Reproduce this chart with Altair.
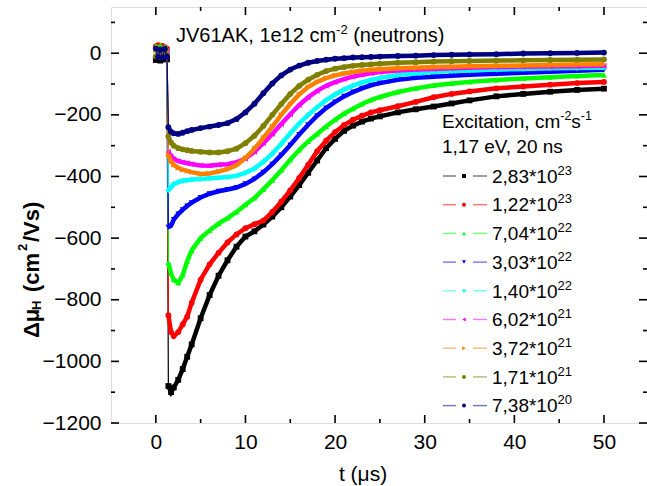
import altair as alt
import pandas as pd

# ---------------- data ----------------
mant = ["2,83", "1,22", "7,04", "3,03", "1,40", "6,02", "3,72", "1,71", "7,38"]
expo = ["23", "23", "22", "22", "22", "21", "21", "21", "20"]
colors = ["#000000", "#ff0000", "#00ff00", "#0000ff", "#00ffff",
          "#ff00ff", "#ff8000", "#808000", "#000080"]
shapes = ["square", "circle", "triangle-up", "triangle-down", "diamond",
          "triangle-left", "triangle-right", "circle", "circle"]

t_pre = [0.0, 0.25, 0.5, 0.75, 1.0, 1.25]
t_post = [1.4, 1.7, 2, 2.5, 3, 3.5, 4, 5, 6, 7, 8, 9, 10, 11, 12, 13, 14, 15, 16,
          17, 18, 19, 20, 21, 22, 23, 24, 25, 27, 29, 31, 33, 35, 38, 41, 44, 47, 50]

pre_black = [-22, -18, -24, -20, -16, -20]
pre_red = [22, 26, 18, 24, 20, 15]
pre_green = [24, 20, 26, 18, 22, 16]
pre_blue = [5, -8, 10, -5, 8, 0]
pre_cyan = [8, -4, 6, -10, 4, 2]
pre_magenta = [-6, 10, -2, 6, -8, 4]
pre_orange = [10, -6, 4, 12, -4, 6]
pre_olive = [-10, 6, -12, 4, 10, -6]
pre_navy = [15, -12, 12, -15, 14, -10]

post_black = [-1080, -1100, -1085, -1060, -1025, -985, -945, -860, -785, -722, -672, -628,
              -595, -578, -556, -530, -500, -465, -428, -388, -348, -308, -278, -252, -235,
              -222, -212, -205, -192, -182, -173, -163, -153, -140, -132, -125, -119, -115]
post_red = [-850, -905, -918, -905, -880, -855, -810, -735, -685, -648, -614, -588, -568,
            -555, -543, -515, -482, -445, -405, -362, -318, -284, -256, -233, -216, -203,
            -192, -185, -172, -158, -143, -132, -124, -114, -108, -102, -97, -93]
post_green = [-680, -715, -735, -745, -720, -675, -640, -600, -575, -553, -535, -515, -492,
              -470, -442, -412, -380, -346, -314, -286, -262, -238, -216, -196, -180, -165,
              -152, -142, -126, -114, -105, -98, -93, -87, -82, -78, -74, -71]
post_blue = [-565, -560, -540, -522, -508, -496, -485, -468, -456, -448, -442, -436, -424,
             -408, -386, -360, -330, -298, -264, -232, -203, -178, -158, -140, -126, -114,
             -104, -97, -86, -80, -76, -73, -70, -67, -63, -60, -57, -54]
post_cyan = [-445, -435, -425, -418, -414, -412, -410, -408, -406, -404, -402, -398, -388,
             -374, -352, -326, -294, -260, -228, -200, -175, -152, -134, -118, -105, -95,
             -87, -80, -71, -65, -61, -58, -56, -53, -51, -49, -48, -47]
post_magenta = [-320, -335, -343, -350, -354, -357, -360, -364, -365, -362, -360, -354, -342,
                -320, -292, -262, -230, -198, -168, -143, -122, -106, -94, -84, -76, -70,
                -65, -61, -56, -53, -51, -49, -47, -45, -44, -43, -42, -41]
post_orange = [-330, -350, -362, -372, -378, -382, -386, -392, -390, -384, -376, -364, -340,
               -310, -275, -238, -200, -165, -134, -110, -93, -81, -72, -66, -61, -57,
               -54, -52, -49, -47, -45, -44, -42, -41, -40, -38, -37, -36]
post_olive = [-270, -290, -300, -308, -312, -315, -317, -320, -322, -322, -318, -310, -292,
              -268, -236, -200, -165, -132, -106, -86, -70, -58, -50, -45, -41, -38,
              -36, -34, -31, -29, -27, -26, -25, -24, -23, -22, -21, -20]
post_navy = [-240, -255, -260, -262, -258, -253, -249, -243, -238, -233, -227, -214, -192,
             -164, -130, -98, -72, -53, -40, -31, -25, -21, -18, -16, -14, -13,
             -12, -11, -9, -8, -6, -5, -4, -3, -1, 0, 1, 2]

pre_all = [pre_black, pre_red, pre_green, pre_blue, pre_cyan,
           pre_magenta, pre_orange, pre_olive, pre_navy]
post_all = [post_black, post_red, post_green, post_blue, post_cyan,
            post_magenta, post_orange, post_olive, post_navy]

x_labels = [0, 10, 20, 30, 40, 50]
x_minor = [5, 15, 25, 35, 45]
y_labels = [-1200, -1000, -800, -600, -400, -200, 0]
y_minor = [-1100, -900, -700, -500, -300, -100, 100]

# ---------------- layout ----------------
W, H = 536, 416
LEFT, TOP = 111, 7
XMIN, XMAX = -5.0, 54.8
YMIN, YMAX = -1200.0, 150.0
FONT = "Liberation Sans"


def px_t(px):
    return XMIN + px / W * (XMAX - XMIN)


def py_v(py):
    return YMAX - py / H * (YMAX - YMIN)


rows = []
for i in range(len(mant)):
    for t, v in zip(t_pre, pre_all[i]):
        rows.append({"s": str(i), "t": t, "v": v, "ph": "pre"})
    for t, v in zip(t_post, post_all[i]):
        rows.append({"s": str(i), "t": t, "v": v, "ph": "post"})
df = pd.DataFrame(rows)

xs = alt.Scale(domain=[XMIN, XMAX], nice=False, zero=False)
ys = alt.Scale(domain=[YMIN, YMAX], nice=False, zero=False)
xaxis = alt.Axis(values=x_labels, title=None, ticks=False, tickSize=0, domain=False,
                 grid=False, labelFontSize=21, labelFont=FONT, labelColor="black",
                 labelPadding=8, labelFlush=False, format="d")
yaxis = alt.Axis(values=y_labels, title=None, ticks=False, tickSize=0, domain=False,
                 grid=False, labelFontSize=21, labelFont=FONT, labelColor="black",
                 labelPadding=10, format="d")
X = alt.X("t:Q", scale=xs, axis=xaxis)
Y = alt.Y("v:Q", scale=ys, axis=yaxis)

layers = []

# inward ticks on all four sides
xmaj = pd.DataFrame({"t": x_labels})
xmin_ = pd.DataFrame({"t": x_minor})
ymaj = pd.DataFrame({"v": y_labels})
ymin_ = pd.DataFrame({"v": y_minor})
for d, ln in ((xmaj, 8), (xmin_, 4)):
    layers.append(alt.Chart(d).mark_rule(color="black", strokeWidth=1.6).encode(
        x=X, y=alt.value(H), y2=alt.value(H - ln)))
    layers.append(alt.Chart(d).mark_rule(color="black", strokeWidth=1.6).encode(
        x=X, y=alt.value(0), y2=alt.value(ln)))
for d, ln in ((ymaj, 8), (ymin_, 4)):
    layers.append(alt.Chart(d).mark_rule(color="black", strokeWidth=1.6).encode(
        y=Y, x=alt.value(0), x2=alt.value(ln)))
    layers.append(alt.Chart(d).mark_rule(color="black", strokeWidth=1.6).encode(
        y=Y, x=alt.value(W), x2=alt.value(W - ln)))

# data series, black first, navy last (on top)
for i in range(len(mant)):
    base = alt.Chart(df).transform_filter(alt.datum.s == str(i))
    layers.append(base.mark_line(color=colors[i], strokeWidth=1.2).encode(
        x=X, y=Y, order="t:Q"))
    layers.append(base.transform_filter(alt.datum.ph == "post").mark_line(
        color=colors[i], strokeWidth=4.5).encode(x=X, y=Y, order="t:Q"))
    layers.append(base.mark_point(color=colors[i], shape=shapes[i], filled=True,
                                  size=34, opacity=1).encode(x=X, y=Y))

# ---------------- manual legend ----------------
leg = pd.DataFrame({"s": [str(i) for i in range(len(mant))],
                    "txt": [m + "*10" for m in mant],
                    "sup": expo})
base_y = [175.7 + 28.7 * i for i in range(len(mant))]
leg["vb"] = [py_v(b) for b in base_y]
leg["vc"] = [py_v(b - 6.7) for b in base_y]
leg["vs"] = [py_v(b - 8.0) for b in base_y]
leg["ta1"] = px_t(332)
leg["tb1"] = px_t(345)
leg["ta2"] = px_t(362)
leg["tb2"] = px_t(376)
leg["tm"] = px_t(353)
leg["tt"] = px_t(381)
leg["ts"] = px_t(381 + 3.447 * 19)

cscale = alt.Scale(domain=[str(i) for i in range(len(mant))], range=colors)
sscale = alt.Scale(domain=[str(i) for i in range(len(mant))], range=shapes)
C = alt.Color("s:N", scale=cscale, legend=None)

lb = alt.Chart(leg)
layers.append(lb.mark_rule(strokeWidth=1.4, opacity=0.55).encode(
    x=alt.X("ta1:Q", scale=xs, axis=xaxis), x2="tb1:Q",
    y=alt.Y("vc:Q", scale=ys, axis=yaxis), color=C))
layers.append(lb.mark_rule(strokeWidth=1.4, opacity=0.55).encode(
    x=alt.X("ta2:Q", scale=xs, axis=xaxis), x2="tb2:Q",
    y=alt.Y("vc:Q", scale=ys, axis=yaxis), color=C))
layers.append(lb.mark_point(filled=True, size=16, opacity=1).encode(
    x=alt.X("tm:Q", scale=xs, axis=xaxis), y=alt.Y("vc:Q", scale=ys, axis=yaxis),
    color=C, shape=alt.Shape("s:N", scale=sscale, legend=None)))
layers.append(lb.mark_text(align="left", baseline="alphabetic", fontSize=19, font=FONT,
                           color="black").encode(
    x=alt.X("tt:Q", scale=xs, axis=xaxis), y=alt.Y("vb:Q", scale=ys, axis=yaxis),
    text="txt:N"))
layers.append(lb.mark_text(align="left", baseline="alphabetic", fontSize=13, font=FONT,
                           color="black").encode(
    x=alt.X("ts:Q", scale=xs, axis=xaxis), y=alt.Y("vs:Q", scale=ys, axis=yaxis),
    text="sup:N"))

one = pd.DataFrame({"a": [0]})


def txt(s, x, y, size, bold=False, angle=0, align="left"):
    kw = dict(align=align, baseline="alphabetic", fontSize=size, font=FONT,
              color="black", fontWeight="bold" if bold else "normal")
    if angle:
        kw["angle"] = angle
    return alt.Chart(one).mark_text(**kw).encode(
        x=alt.value(x), y=alt.value(y), text=alt.value(s))


# legend header
layers.append(txt("Excitation, cm", 331, 121.3, 19))
layers.append(txt("-2", 331 + 6.224 * 19, 113.3, 12.5))
layers.append(txt("s", 331 + 6.224 * 19 + 0.889 * 12.5, 121.3, 19))
layers.append(txt("-1", 331 + 6.224 * 19 + 0.889 * 12.5 + 0.5 * 19, 113.3, 12.5))
layers.append(txt("1,17 eV, 20 ns", 331, 145.7, 19))

# top annotation
layers.append(txt("JV61AK, 1e12 cm", 65, 35, 20))
layers.append(txt("-2", 65 + 8.004 * 20, 27, 13))
layers.append(txt("(neutrons)", 65 + 8.004 * 20 + 0.889 * 13 + 0.278 * 20, 35, 20))

# axis titles
layers.append(txt("t (\u03bcs)", 252, 474, 21, align="center"))
layers.append(txt("\u0394\u03bc", -72.5, 331, 22, bold=True, angle=270))
layers.append(txt("H", -70, 303, 13, bold=True, angle=270))
layers.append(txt("(cm", -72.5, 285, 22, bold=True, angle=270))
layers.append(txt("2", -84, 244, 13, bold=True, angle=270))
layers.append(txt("/Vs)", -72.5, 235, 22, bold=True, angle=270))

chart = alt.layer(*layers).properties(
    width=W, height=H,
    autosize=alt.AutoSizeParams(type="none"),
    padding={"left": LEFT, "top": TOP, "right": 0, "bottom": 486 - TOP - H},
    background="white",
).configure_view(stroke="black", strokeWidth=1.8).configure(font=FONT)

chart.save("out.html", embed_options={"renderer": "svg", "actions": False})
